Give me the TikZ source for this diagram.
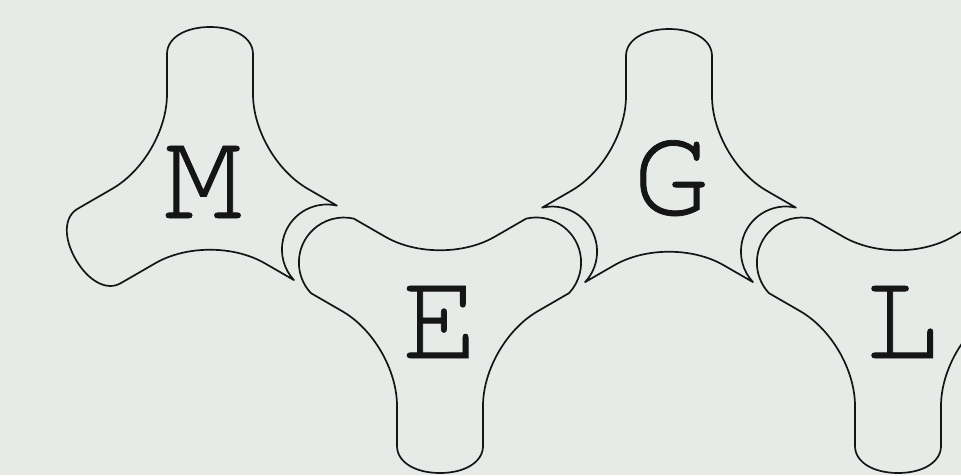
\documentclass[tikz,border=0pt]{standalone}
\usepackage{fontspec}
\newfontfamily\lettfont{texgyrecursor-regular.otf}[FakeBold=0.6]
\definecolor{bg}{HTML}{E7EBE8}
\definecolor{ink}{HTML}{151515}
% concave edge from right side of arm #1 to left side of next arm (clockwise)
\newcommand\trconcave[1]{.. controls ([rotate=#1-90]43,52) and ([rotate=#1-210]-43,52) .. ([rotate=#1-210]-43,88)}
% free arm end
\newcommand\trarmfree[1]{-- ([rotate=#1-90]-43,128) .. controls ([rotate=#1-90]-43,144) and ([rotate=#1-90]-25,155) .. ([rotate=#1-90]0,155) .. controls ([rotate=#1-90]25,155) and ([rotate=#1-90]43,144) .. ([rotate=#1-90]43,128) -- ([rotate=#1-90]43,88) \trconcave{#1}}
% ball end
\newcommand\trarmball[1]{-- ([rotate=#1-90]-43,124.3) arc[start angle=#1+72.8, end angle=#1-72.8, radius=45] -- ([rotate=#1-90]43,88) \trconcave{#1}}
% socket end
\newcommand\trarmsocket[1]{-- ([rotate=#1-90]-43,121.7) arc[start angle=#1+107.2, end angle=#1+252.8, radius=45] -- ([rotate=#1-90]43,88) \trconcave{#1}}
\begin{document}
\begin{tikzpicture}[x=1pt,y=1pt,
  lobe/.style={draw=ink, line width=1.7pt, line join=round},
  lett/.style={text=ink, inner sep=0pt, font=\lettfont\fontsize{128}{130}\selectfont}]
\fill[bg] (0,0) rectangle (961,475);
\useasboundingbox (0,0) rectangle (961,475);
\clip (0,0) rectangle (961,475);
% M (up)
\begin{scope}[shift={(210,293)}]
\draw[lobe] ([rotate=0]-43,88) \trarmfree{90} \trarmsocket{-30} \trarmfree{210} -- cycle;
\end{scope}
% E (down)
\begin{scope}[shift={(440,157)}]
\draw[lobe] ([rotate=60]-43,88) \trarmball{150} \trarmball{30} \trarmfree{-90} -- cycle;
\end{scope}
% G (up)
\begin{scope}[shift={(669,291)}]
\draw[lobe] ([rotate=0]-43,88) \trarmfree{90} \trarmsocket{-30} \trarmsocket{210} -- cycle;
\end{scope}
% L (down)
\begin{scope}[shift={(898,157)}]
\draw[lobe] ([rotate=60]-43,88) \trarmball{150} \trarmfree{30} \trarmfree{-90} -- cycle;
\end{scope}
\node[lett, anchor=base] (tM) at (203,257) {M};
\node[lett, anchor=base] (tE) at (440,117) {E};
\node[lett, anchor=base] (tG) at (671,261) {G};
\node[lett, anchor=base] (tL) at (902,117) {L};
\end{tikzpicture}
\end{document}
